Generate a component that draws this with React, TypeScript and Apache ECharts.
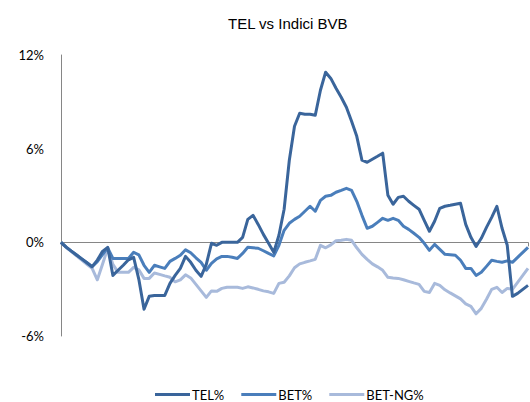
import React, { useEffect, useRef } from "react";
import * as echarts from "echarts";

const title = "TEL vs Indici BVB";
const seriesNames = ["TEL%", "BET%", "BET-NG%"];
const yTicks = [-6, 0, 6, 12];

const tel = [
  0, -0.31, -0.56, -0.81, -1.06, -1.31, -1.56, -1.14, -0.58, -0.32,
  -2.12, -1.79, -1.47, -1.12, -0.96, -2.37, -4.29, -3.46, -3.4, -3.4,
  -3.4, -2.63, -2.12, -1.67, -0.9, -1.28, -1.79, -2.18, -1.41, -0.06,
  -0.19, 0, 0, 0, 0, 0.32, 1.47, 1.73, 1.15, 0.51,
  -0.06, -0.64, 0.45, 2.12, 5.26, 7.44, 8.27, 8.21, 8.21, 8.14,
  9.74, 10.9, 10.5, 9.87, 9.29, 8.65, 7.76, 6.79, 5.26, 5.13,
  5.32, 5.51, 5.71, 3.01, 2.44, 2.88, 2.95, 2.63, 2.37, 2.12,
  1.41, 0.71, 1.35, 2.18, 2.31, 2.37, 2.44, 2.5, 1.15, 0.32,
  -0.26, 0.26, 0.96, 1.6, 2.31, 0.9, -0.19, -3.46, -3.27, -3.01,
  -2.76,
];

const bet = [
  0, -0.31, -0.56, -0.81, -1.06, -1.31, -1.56, -1.24, -0.79, -0.35,
  -1.03, -1.03, -1.03, -1.03, -0.64, -0.8, -1.47, -1.92, -1.47, -1.57,
  -1.67, -1.22, -1.03, -0.83, -0.48, -0.67, -0.99, -1.28, -1.79, -1.35,
  -1.06, -0.9, -0.9, -0.96, -1.03, -0.71, -0.32, -0.35, -0.38, -0.54,
  -0.71, -0.87, -0.19, 0.77, 1.22, 1.47, 1.67, 1.99, 2.31, 1.99,
  2.69, 2.95, 3.01, 3.21, 3.33, 3.46, 3.33, 2.63, 1.73, 0.9,
  1.03, 1.28, 1.54, 1.41, 1.54, 1.41, 1.03, 0.83, 0.58, 0.32,
  -0.06, -0.51, -0.13, -0.45, -0.77, -0.8, -0.83, -1.15, -1.67, -1.67,
  -2.12, -1.92, -1.54, -1.15, -1.22, -1.28, -1.19, -1.28, -0.96, -0.64,
  -0.32,
];

const betNg = [
  0, -0.33, -0.6, -0.87, -1.14, -1.41, -1.67, -2.4, -1.41, -0.38,
  -1.41, -1.92, -1.92, -1.92, -1.6, -1.76, -2.31, -2.31, -1.96, -2.05,
  -2.15, -2.24, -2.53, -2.4, -2.08, -2.28, -2.69, -3.11, -3.53, -3.11,
  -3.14, -2.95, -2.88, -2.88, -2.88, -2.95, -2.85, -2.92, -3.01, -3.11,
  -3.17, -3.27, -2.63, -2.56, -2.15, -1.63, -1.38, -1.28, -1.19, -1.09,
  -0.19, -0.35, -0.16, 0.1, 0.13, 0.19, 0.13, -0.35, -0.77, -1.09,
  -1.38, -1.57, -1.79, -2.24, -2.28, -2.31, -2.4, -2.5, -2.6, -2.69,
  -3.14, -3.21, -2.63, -2.76, -3.04, -3.24, -3.43, -3.62, -3.94, -4.1,
  -4.58, -4.23, -3.65, -3.01, -2.88, -3.21, -2.95, -3.01, -2.56, -2.12,
  -1.67,
];

const categories = tel.map((_, i) => String(i + 1));
const colors = ["#3a659b", "#4a7ebb", "#a8badb"];

export default function App() {
  const ref = useRef<HTMLDivElement>(null);
  useEffect(() => {
    if (!ref.current) return;
    const chart = echarts.init(ref.current, undefined, { renderer: "svg" });
    const data = [tel, bet, betNg];
    chart.setOption({
      animation: false,
      backgroundColor: "#ffffff",
      title: {
        text: title,
        left: 223,
        top: 11,
        textStyle: {
          fontFamily: "Liberation Sans, Arial, sans-serif",
          fontSize: 15,
          fontWeight: "normal",
          color: "#000000",
        },
      },
      legend: {
        left: 150,
        top: 383,
        itemWidth: 35,
        itemHeight: 3,
        itemGap: 17,
        icon: "rect",
        textStyle: {
          fontFamily: "Lato, sans-serif",
          fontSize: 13,
          color: "#000000",
          padding: [0, 0, 0, -3],
        },
        data: seriesNames,
      },
      grid: { left: 61, right: 2, top: 55, bottom: 66, containLabel: false },
      xAxis: {
        type: "category",
        data: categories,
        boundaryGap: false,
        axisLine: { onZero: true, lineStyle: { color: "#868686", width: 1 } },
        axisTick: {
          show: true,
          length: 4,
          interval: (index: number) => index === categories.length - 1,
          lineStyle: { color: "#868686" },
        },
        axisLabel: { show: false },
        splitLine: { show: false },
      },
      yAxis: {
        type: "value",
        min: yTicks[0],
        max: yTicks[yTicks.length - 1],
        interval: 6,
        axisLine: { show: true, lineStyle: { color: "#868686", width: 1 } },
        axisTick: { show: false },
        splitLine: { show: false },
        axisLabel: {
          formatter: "{value}%",
          margin: 17,
          fontFamily: "Lato, sans-serif",
          fontSize: 13,
          color: "#000000",
        },
      },
      series: seriesNames.map((name, k) => ({
        name,
        type: "line",
        data: data[k],
        showSymbol: false,
        symbol: "none",
        z: 10 - k,
        lineStyle: { color: colors[k], width: 3, join: "round" },
        itemStyle: { color: colors[k] },
      })),
    });
    return () => chart.dispose();
  }, []);
  return (
    <div
      ref={ref}
      style={{ position: "fixed", left: 0, top: 0, width: 530, height: 402 }}
    />
  );
}
